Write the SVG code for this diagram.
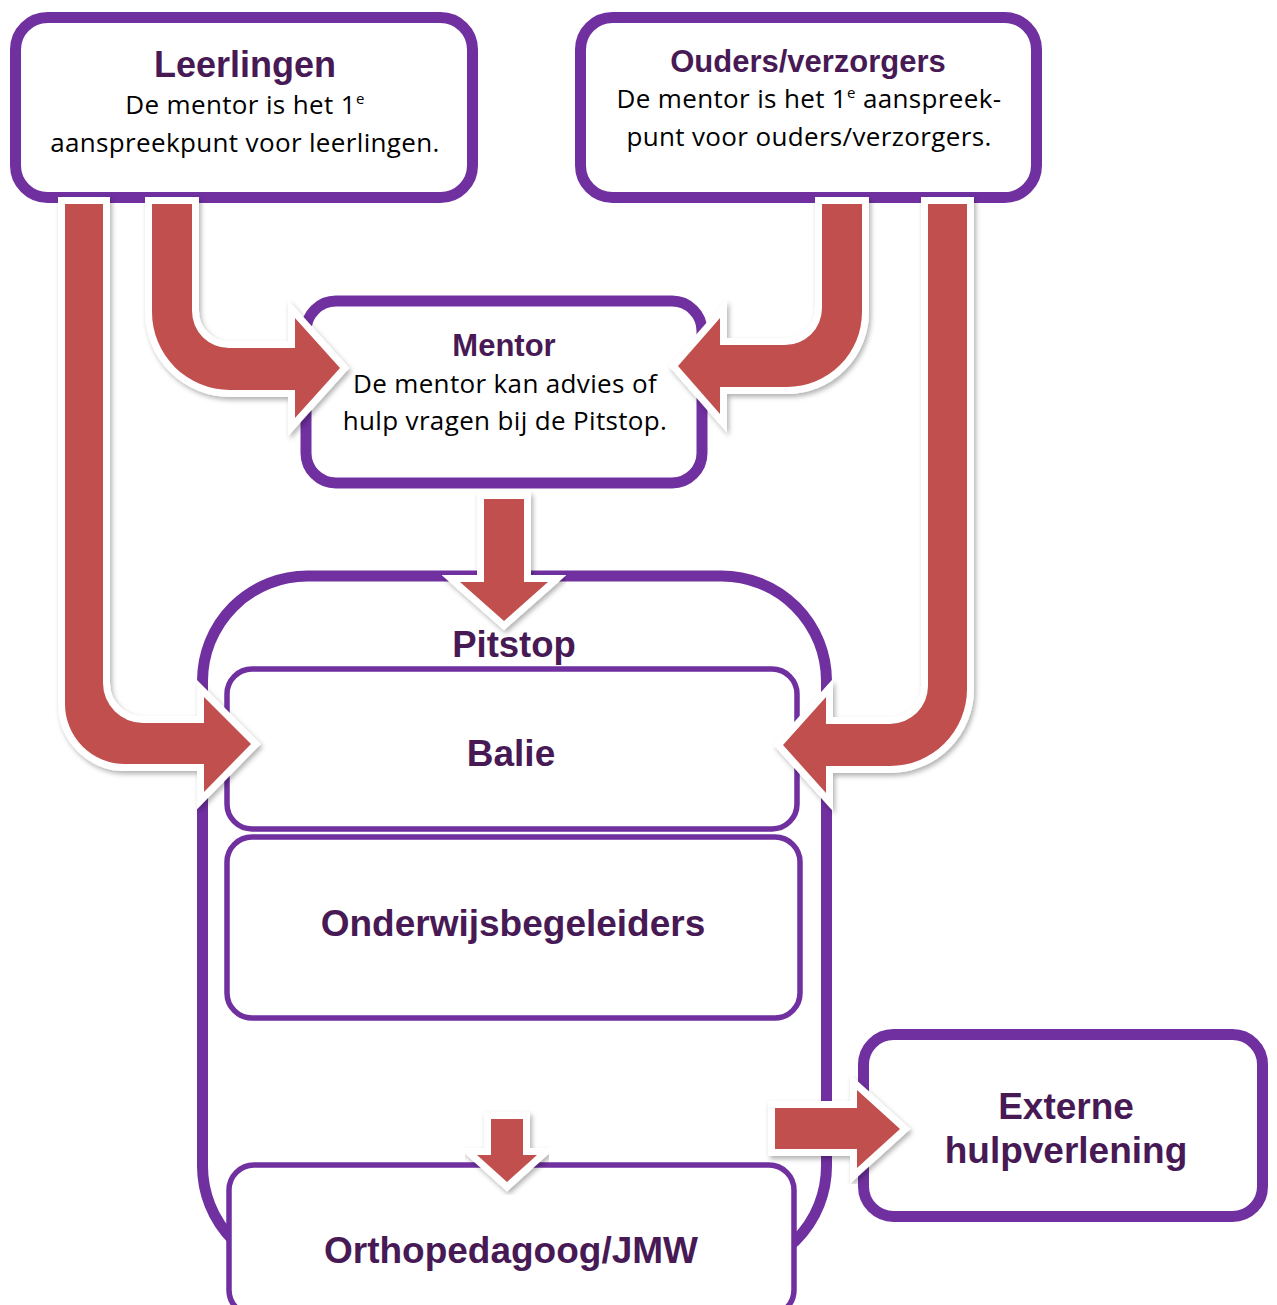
<svg xmlns="http://www.w3.org/2000/svg" width="1277" height="1305" viewBox="0 0 1277 1305">
<style>
.box{fill:#fff;stroke:#7030A0;stroke-width:11}
.thin{fill:#fff;stroke:#7030A0;stroke-width:5.5}
.t{font-family:"Liberation Sans",Arial,sans-serif;font-weight:bold;fill:#481A55;text-anchor:middle}
.b{font-family:"Open Sans","DejaVu Sans",sans-serif;fill:#000;text-anchor:middle;font-size:26px;letter-spacing:0.35px}
.arr{fill:#C0504D;stroke:#fff;stroke-width:14;stroke-linejoin:miter;paint-order:stroke;filter:url(#sh)}
</style>
<defs>
<filter id="sh" x="-20%" y="-20%" width="140%" height="140%">
<feDropShadow dx="2" dy="3" stdDeviation="2.5" flood-color="#000" flood-opacity="0.3"/>
</filter>
</defs>
<rect width="1277" height="1305" fill="#fff"/>
<g id="pitstop">
<rect class="box" x="202.5" y="576" width="624" height="695" rx="105"/>
<text class="t" x="514" y="657" font-size="36.5">Pitstop</text>
</g>
<g id="balie">
<rect class="thin" x="227" y="669" width="570" height="160" rx="25"/>
<text class="t" x="511" y="766" font-size="37">Balie</text>
</g>
<g id="onderwijsbegeleiders">
<rect class="thin" x="227" y="837" width="573" height="181" rx="25"/>
<text class="t" x="513" y="936" font-size="37">Onderwijsbegeleiders</text>
</g>
<g id="orthopedagoog">
<rect class="thin" x="229" y="1165" width="565" height="150" rx="25"/>
<text class="t" x="511" y="1263" font-size="37">Orthopedagoog/JMW</text>
</g>
<g id="leerlingen">
<rect class="box" x="15.5" y="17.5" width="457" height="180" rx="32"/>
<text class="t" x="245" y="77" font-size="36">Leerlingen</text>
<text class="b" x="245" y="114">De mentor is het 1<tspan font-size="15" dy="-10">e</tspan></text>
<text class="b" x="245" y="152">aanspreekpunt voor leerlingen.</text>
</g>
<g id="ouders">
<rect class="box" x="580.5" y="17.5" width="456" height="180" rx="32"/>
<text class="t" x="808" y="72" font-size="31">Ouders/verzorgers</text>
<text class="b" x="809" y="108">De mentor is het 1<tspan font-size="15" dy="-10">e</tspan><tspan dy="10"> aanspreek-</tspan></text>
<text class="b" x="809" y="146">punt voor ouders/verzorgers.</text>
</g>
<g id="mentor">
<rect class="box" x="306" y="301" width="396" height="182" rx="30"/>
<text class="t" x="504" y="356" font-size="31">Mentor</text>
<text class="b" x="505" y="393">De mentor kan advies of</text>
<text class="b" x="505" y="430">hulp vragen bij de Pitstop.</text>
</g>
<g id="externe">
<rect class="box" x="863.5" y="1034.5" width="399" height="182" rx="30"/>
<text class="t" x="1066" y="1119" font-size="37">Externe</text>
<text class="t" x="1066" y="1163" font-size="37">hulpverlening</text>
</g>
<g id="connectors">
<path class="arr" d="M65 204 L103 204 L103 683 A40 40 0 0 0 143 723 L204 723 L204 697 L251 744 L204 792 L204 764 L125 764 A60 60 0 0 1 65 704 Z"/>
<path class="arr" d="M152 204 L192 204 L192 311 A37 37 0 0 0 229 348 L295 348 L295 318 L340 368 L295 418 L295 390 L230 390 A78 78 0 0 1 152 312 Z"/>
<path class="arr" d="M862 204 L822 204 L822 308 A37 37 0 0 1 785 345 L720 345 L720 318 L678 366 L720 414 L720 387 L787 387 A75 75 0 0 0 862 312 Z"/>
<path class="arr" d="M967 204 L928 204 L928 686 A38 38 0 0 1 890 724 L826 724 L826 697 L783 745 L826 793 L826 766 L890 766 A77 77 0 0 0 967 689 Z"/>
<path class="arr" d="M484 499 L524 499 L524 582 L548 582 L504 621 L460 582 L484 582 Z"/>
<path class="arr" d="M491 1119 L523 1119 L523 1155 L537 1155 L507 1182 L477 1155 L491 1155 Z"/>
<path class="arr" d="M775 1108 L857 1108 L857 1090 L900 1129 L857 1168 L857 1149 L775 1149 Z"/>
</g>
</svg>
